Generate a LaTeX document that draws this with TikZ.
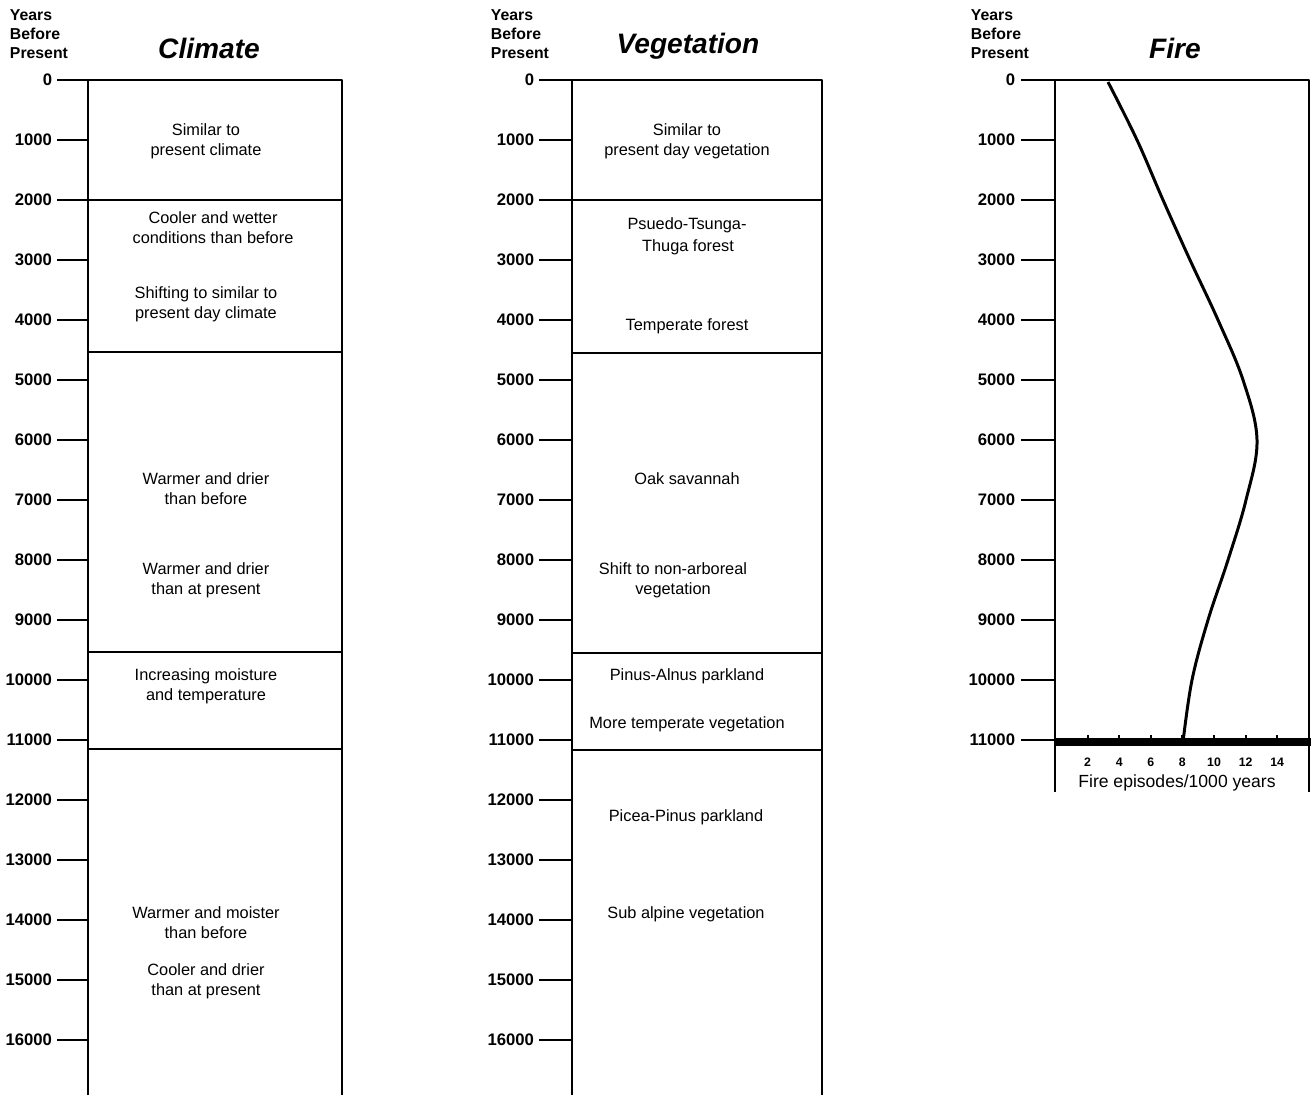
\documentclass[tikz,border=0pt]{standalone}
\usepackage{fontspec}
\setmainfont{Liberation Sans}
\begin{document}
\begin{tikzpicture}[x=0.02cm,y=-0.02cm,line width=1.1pt,line join=round,
  lbl/.style={font=\fontsize{9.3}{11.4}\selectfont,align=center,inner sep=0pt},
  yr/.style={font=\fontsize{9.5}{11}\selectfont\bfseries,anchor=east,inner sep=0pt},
  hd/.style={font=\fontsize{9}{10.8}\selectfont\bfseries,align=left,anchor=north west,inner sep=0pt},
  ttl/.style={font=\fontsize{16}{19}\selectfont\bfseries\itshape,inner sep=0pt},
  ax/.style={font=\fontsize{7}{8}\selectfont\bfseries,inner sep=0pt}]
\useasboundingbox (0,0) rectangle (1311,1095);
% headers
\node[hd] (hc) at (9,9) {Years\\Before\\Present};
\node[hd] (hv) at (490,9) {Years\\Before\\Present};
\node[hd] (hf) at (970,9) {Years\\Before\\Present};
\node[ttl] (tc) at (209,48) {Climate};
\node[ttl] (tv) at (688,46) {Vegetation};
\node[ttl] (tf) at (1175,48) {Fire};
% year scales
\foreach \y in {0,...,16} {
  \pgfmathtruncatemacro\yy{\y*1000}
  \node[yr] (cy\y) at (53,80+60*\y) {\yy};
  \draw (57,80+60*\y) -- (88,80+60*\y);
  \node[yr] (vy\y) at (535,80+60*\y) {\yy};
  \draw (539,80+60*\y) -- (572,80+60*\y);
}
\foreach \y in {0,...,11} {
  \pgfmathtruncatemacro\yy{\y*1000}
  \node[yr] (fy\y) at (1016,80+60*\y) {\yy};
  \draw (1021,80+60*\y) -- (1055,80+60*\y);
}
% climate column
\draw (88,1095) -- (88,80) -- (342,80) -- (342,1095);
\draw (88,200) -- (342,200) (88,352) -- (342,352) (88,652) -- (342,652) (88,749) -- (342,749);
\node[lbl] (c1) at (206,141) {Similar to\\present climate};
\node[lbl] (c2) at (213,228) {Cooler and wetter\\conditions than before};
\node[lbl] (c3) at (206,304) {Shifting to similar to\\present day climate};
\node[lbl] (c4) at (206,489) {Warmer and drier\\than before};
\node[lbl] (c5) at (206,580) {Warmer and drier\\than at present};
\node[lbl] (c6) at (206,686) {Increasing moisture\\and temperature};
\node[lbl] (c7) at (206,923) {Warmer and moister\\than before};
\node[lbl] (c8) at (206,981) {Cooler and drier\\than at present};
% vegetation column
\draw (572,1095) -- (572,80) -- (822,80) -- (822,1095);
\draw (572,200) -- (822,200) (572,353) -- (822,353) (572,653) -- (822,653) (572,750) -- (822,750);
\node[lbl] (v1) at (687,141) {Similar to\\present day vegetation};
\node[lbl] (v2) at (687,225) {Psuedo-Tsunga-};
\node[lbl] (v3) at (688,247) {Thuga forest};
\node[lbl] (v4) at (687,326) {Temperate forest};
\node[lbl] (v5) at (687,479) {Oak savannah};
\node[lbl] (v6) at (673,580) {Shift to non-arboreal\\vegetation};
\node[lbl] (v7) at (687,676) {Pinus-Alnus parkland};
\node[lbl] (v8) at (687,724) {More temperate vegetation};
\node[lbl] (v9) at (686,817) {Picea-Pinus parkland};
\node[lbl] (v10) at (686,914) {Sub alpine vegetation};
% fire column
\draw (1055,792) -- (1055,80) -- (1309,80) -- (1309,792);
\draw[line width=4pt] (1055,742) -- (1311,742);
\foreach \v in {2,4,...,14} {
  \draw (1056+15.8*\v,735) -- (1056+15.8*\v,742);
  \node[ax] (fx\v) at (1056+15.8*\v,762) {\v};
}
\node[lbl,font=\fontsize{10}{12}\selectfont] (fl) at (1177,783) {Fire episodes/1000 years};
\draw[line width=1.7pt] plot[smooth,tension=0.6] coordinates {(1108,82) (1137,140) (1163,200) (1190,260)
  (1218,320) (1243,380) (1257,440) (1246,500) (1228,560) (1208,620) (1192,680) (1183,742)};
\end{tikzpicture}
\end{document}
